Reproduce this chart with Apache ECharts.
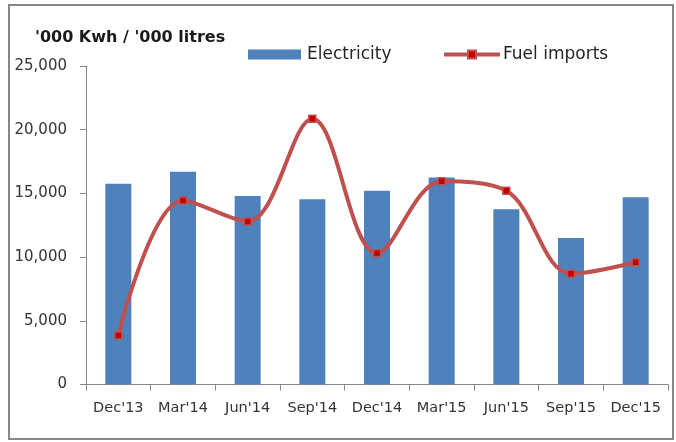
<!DOCTYPE html>
<html>
<head>
<meta charset="utf-8">
<script src="https://cdn.jsdelivr.net/npm/echarts@6/dist/echarts.min.js"></script>
<style>
html,body{margin:0;padding:0;background:#fff;}
#c{width:676px;height:442px;}
</style>
</head>
<body>
<div id="c"></div>
<script>
var categories = ["Dec'13","Mar'14","Jun'14","Sep'14","Dec'14","Mar'15","Jun'15","Sep'15","Dec'15"];
var electricity = [15750, 16700, 14800, 14550, 15200, 16250, 13750, 11500, 14700];
var fuelImports = [3850, 14450, 12800, 20850, 10300, 15950, 15200, 8700, 9600];
var yTicks = [0, 5000, 10000, 15000, 20000, 25000];

var FONT = '"DejaVu Sans", Verdana, sans-serif';
var chart = echarts.init(document.getElementById('c'), null, {renderer:'canvas'});
chart.setOption({
  animation: false,
  backgroundColor: '#fff',
  textStyle: {fontFamily: FONT},
  title: {
    text: "'000 Kwh / '000 litres",
    left: 30, top: 25,
    textStyle: {fontFamily: FONT, fontSize: 16, fontWeight: 'bold', color: '#1a1a1a'}
  },
  legend: [{
    data: [{name: 'Electricity', icon: 'rect'}],
    left: 248, top: 46, padding: 0,
    itemWidth: 53, itemHeight: 10,
    textStyle: {fontFamily: FONT, fontSize: 17, color: '#262626', padding: [0,0,0,1]}
  },{
    data: ['Fuel imports'],
    left: 442, top: 46, padding: 0,
    itemWidth: 56, itemHeight: 10,
    lineStyle: {width: 4},
    textStyle: {fontFamily: FONT, fontSize: 17, color: '#262626', padding: [0,0,0,-2]}
  }],
  grid: {left: 86, right: 8, top: 66, bottom: 57.5, containLabel: false},
  xAxis: {
    type: 'category',
    data: categories,
    boundaryGap: true,
    axisLine: {lineStyle: {color: '#888', width: 1}},
    axisTick: {show: true, length: 6, lineStyle: {color: '#888'}},
    axisLabel: {fontFamily: FONT, fontSize: 14.5, color: '#333', margin: 16, interval: 0}
  },
  yAxis: {
    type: 'value',
    min: yTicks[0], max: yTicks[yTicks.length-1], interval: 5000,
    axisLine: {show: true, lineStyle: {color: '#888', width: 1}},
    axisTick: {show: true, length: 6, lineStyle: {color: '#888'}},
    splitLine: {show: false},
    axisLabel: {
      fontFamily: FONT, fontSize: 15, color: '#333', margin: 19,
      formatter: function(v){ return v.toLocaleString('en-US'); }
    }
  },
  series: [{
    name: 'Electricity',
    type: 'bar',
    data: electricity,
    barWidth: 26,
    itemStyle: {color: '#4F81BD'}
  },{
    name: 'Fuel imports',
    type: 'line',
    data: fuelImports,
    smooth: 0.35,
    symbol: 'rect',
    symbolSize: 7,
    z: 5,
    lineStyle: {color: '#C0504D', width: 4},
    itemStyle: {color: '#C00000', borderColor: '#C0504D', borderWidth: 1.5}
  }],
  graphic: [{
    type: 'rect',
    shape: {x: 9, y: 5, width: 664, height: 434},
    style: {fill: 'none', stroke: '#878787', lineWidth: 2},
    silent: true
  }]
});
</script>
</body>
</html>
